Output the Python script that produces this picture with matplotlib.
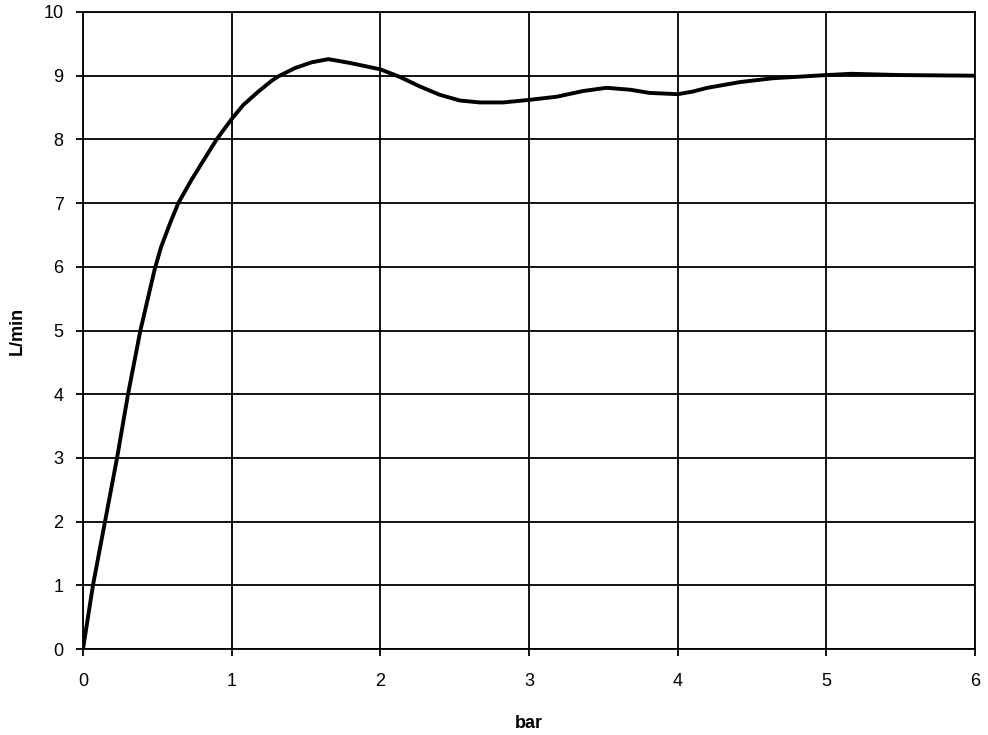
import matplotlib
matplotlib.use("Agg")
import matplotlib.pyplot as plt

pressure_bar = [0, 0.067, 0.148, 0.229, 0.303, 0.386, 0.444, 0.482, 0.525, 0.585, 0.641,
                0.731, 0.821, 0.899, 1.0, 1.078, 1.179, 1.269, 1.314, 1.426, 1.538, 1.65,
                1.796, 2.0, 2.132, 2.267, 2.40, 2.536, 2.67, 2.825, 3.0, 3.186, 3.365,
                3.52, 3.68, 3.81, 4.0, 4.1, 4.2, 4.42, 4.64, 5.0, 5.17, 5.5, 6.0]
flow_lpm = [0, 1, 2, 3, 4, 5, 5.58, 5.96, 6.31, 6.68, 7.0,
            7.37, 7.71, 8.0, 8.32, 8.54, 8.75, 8.92, 8.99, 9.12, 9.21, 9.26,
            9.20, 9.10, 8.98, 8.83, 8.70, 8.61, 8.58, 8.58, 8.62, 8.67, 8.76,
            8.81, 8.78, 8.73, 8.71, 8.75, 8.81, 8.90, 8.96, 9.01, 9.03, 9.01, 9.0]
x_ticks = [0, 1, 2, 3, 4, 5, 6]
y_ticks = [0, 1, 2, 3, 4, 5, 6, 7, 8, 9, 10]

plt.rcParams['font.family'] = ['Liberation Sans', 'DejaVu Sans']

fig = plt.figure(figsize=(9.88, 7.35), dpi=100)
ax = fig.add_axes([83/988, 86/735, (975-83)/988, (649-12)/735])

ax.plot(pressure_bar, flow_lpm, color='black', lw=2.8, solid_capstyle='round',
        solid_joinstyle='round', zorder=3)

ax.set_xlim(0, 6)
ax.set_ylim(0, 10)
ax.set_xticks(x_ticks)
ax.set_yticks(y_ticks)
ax.grid(True, color='black', lw=1.3)
for s in ax.spines.values():
    s.set_color('black')
    s.set_linewidth(1.3)
ax.tick_params(direction='out', length=5, width=1.3, labelsize=13, colors='black')
ax.tick_params(axis='x', pad=12)
ax.tick_params(axis='y', pad=9)
ax.set_xlabel('bar', fontsize=13, fontweight='bold', labelpad=18)
ax.set_ylabel('L/min', fontsize=13, fontweight='bold', labelpad=13)

fig.savefig('out.png', dpi=100)
